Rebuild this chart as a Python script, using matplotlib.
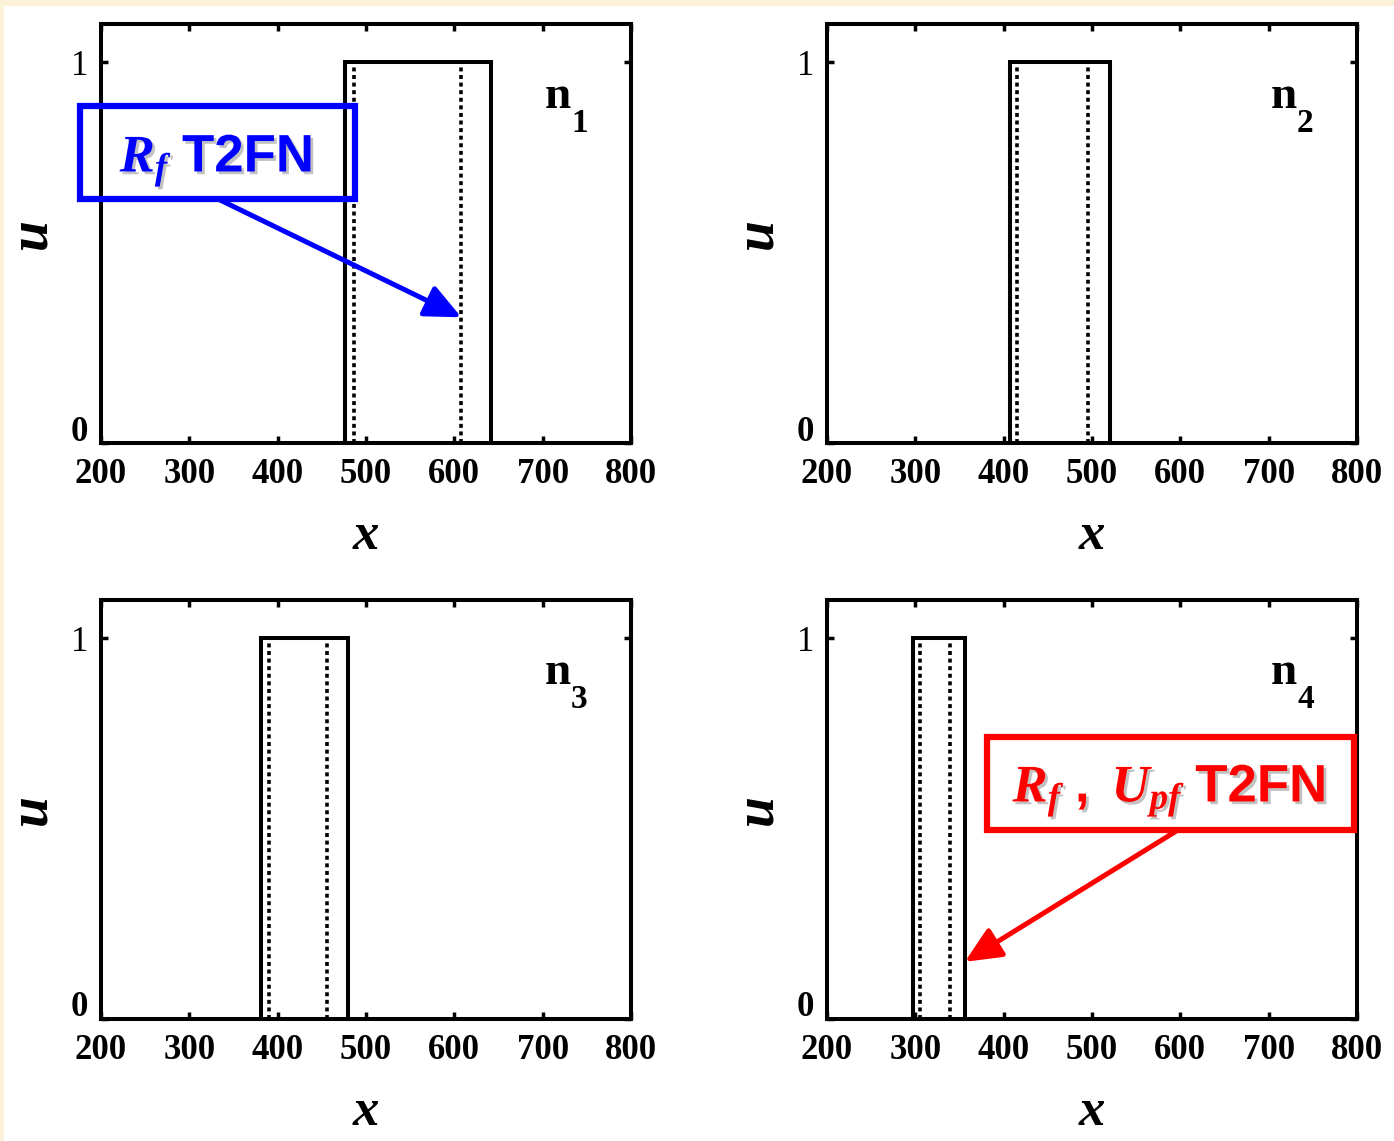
import matplotlib
matplotlib.use("Agg")
import matplotlib.pyplot as plt
import matplotlib.patheffects as pe
from matplotlib.patches import Rectangle
from matplotlib.transforms import ScaledTranslation

# interval bounds for each node (outer solid box, inner dotted lines)
nodes = ["1", "2", "3", "4"]
solid_left = [476, 407, 381, 297]
solid_right = [642, 520, 480, 356]
dot_left = [486, 415, 390, 305]
dot_right = [608, 495, 456, 339]
x_ticks = [200, 300, 400, 500, 600, 700, 800]
y_ticks = [0, 1]

# where the callout arrows point (data coords)
blue_tip_u = 0.33
red_tip_u = 0.15

W, H = 1394, 1141
SERIF = "Liberation Serif"

plt.rcParams["font.family"] = SERIF
plt.rcParams["mathtext.fontset"] = "custom"
plt.rcParams["mathtext.it"] = "Liberation Serif:italic:bold"
plt.rcParams["mathtext.rm"] = "Liberation Sans:bold"
plt.rcParams["mathtext.bf"] = "Liberation Sans:bold"


def fx(px):
    return px / W


def fy(py):
    return 1 - py / H


fig = plt.figure(figsize=(W / 100, H / 100), dpi=100, facecolor="#FBF0D8")
fig.add_artist(Rectangle((fx(4), 0), 1, fy(6), transform=fig.transFigure,
                         facecolor="white", edgecolor="none", zorder=-10))

# axes boxes in pixels: left, right, top, bottom
boxes = [(101, 631, 24, 443), (827, 1357, 24, 443),
         (101, 631, 600, 1019), (827, 1357, 600, 1019)]

axes = []
for i, (l, r, t, b) in enumerate(boxes):
    ax = fig.add_axes([fx(l), fy(b), (r - l) / W, (b - t) / H])
    ax.set_facecolor("white")
    ax.plot([solid_left[i], solid_left[i], solid_right[i], solid_right[i]],
            [0, 1, 1, 0], color="black", lw=2.9, solid_joinstyle="miter", clip_on=False)
    ax.vlines([dot_left[i], dot_right[i]], 0, 1, colors="black", lw=2.6,
              linestyles=(0, (1.1, 1.0)))
    ax.set_xlim(200, 800)
    ax.set_ylim(0, 1.1)
    ax.set_xticks(x_ticks)
    ax.set_yticks(y_ticks)
    ax.tick_params(direction="in", length=5, width=2.5, top=True, right=True,
                   labelsize=25)
    ax.tick_params(axis="x", pad=11)
    ax.tick_params(axis="y", pad=9)
    for lab in ax.get_xticklabels() + ax.get_yticklabels():
        lab.set_fontweight("bold")
    ylabs = ax.get_yticklabels()
    ylabs[1].set_fontweight("normal")
    ylabs[0].set_transform(ylabs[0].get_transform()
                           + ScaledTranslation(0, 0.15, fig.dpi_scale_trans))
    for sp in ax.spines.values():
        sp.set_linewidth(2.9)
    ax.set_xlabel("x", fontsize=38, fontstyle="italic", fontweight="bold", labelpad=15)
    ax.set_ylabel("u", fontsize=40, fontstyle="italic", fontweight="bold", labelpad=10)
    ax.text(0.838, 0.80, "n", transform=ax.transAxes, fontsize=34, fontweight="bold")
    ax.text(0.887, 0.742, nodes[i], transform=ax.transAxes, fontsize=24,
            fontweight="bold")
    axes.append(ax)

shadow = [pe.withSimplePatchShadow(offset=(2, -2), shadow_rgbFace="#9a9a9a", alpha=0.6)]
head = "-|>,head_length=1.1,head_width=0.5"

# blue callout on n1
fig.add_artist(Rectangle((fx(80), fy(199)), fx(355) - fx(80), fy(106) - fy(199),
                         transform=fig.transFigure, fill=False, edgecolor="#0000FF",
                         lw=4.5, zorder=5))
fig.text(fx(216), fy(160), r"$R_f\ \mathrm{T2FN}$", color="#0000FF", fontsize=38,
         ha="center", va="center", path_effects=shadow, zorder=6)
axes[0].annotate("", xy=(dot_right[0], blue_tip_u), xycoords="data",
                 xytext=(fx(218), fy(199)), textcoords="figure fraction",
                 arrowprops=dict(arrowstyle=head, mutation_scale=20, color="#0000FF",
                                 lw=3.6, shrinkA=0, shrinkB=0), zorder=5)

# red callout on n4
fig.add_artist(Rectangle((fx(987), fy(830)), fx(1354) - fx(987), fy(737) - fy(830),
                         transform=fig.transFigure, fill=False, edgecolor="#FF0000",
                         lw=4.5, zorder=5))
fig.text(fx(1169), fy(790), r"$R_f\ ,\ U_{pf}\ \mathrm{T2FN}$", color="#FF0000",
         fontsize=38, ha="center", va="center", path_effects=shadow, zorder=6)
axes[3].annotate("", xy=(solid_right[3], red_tip_u), xycoords="data",
                 xytext=(fx(1178), fy(830)), textcoords="figure fraction",
                 arrowprops=dict(arrowstyle=head, mutation_scale=20, color="#FF0000",
                                 lw=3.6, shrinkA=0, shrinkB=0), zorder=5)

fig.savefig("out.png", dpi=100, facecolor=fig.get_facecolor())
